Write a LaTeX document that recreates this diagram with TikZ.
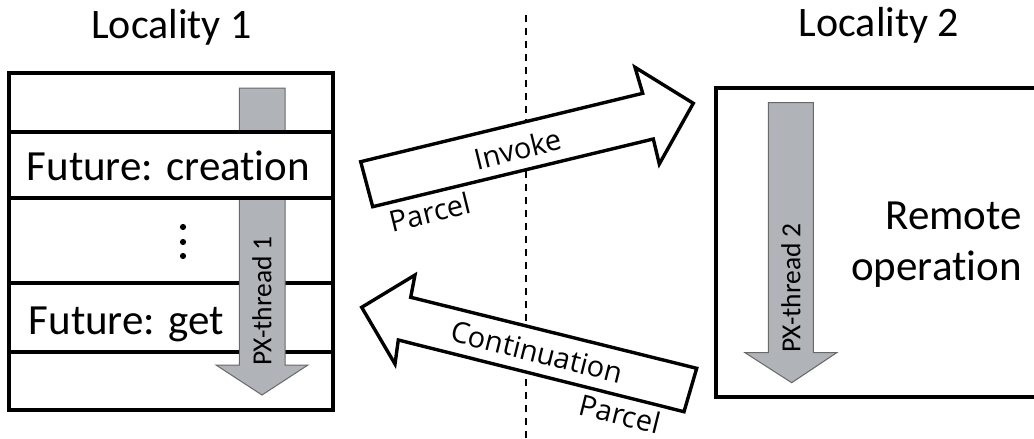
\documentclass[tikz,border=0pt]{standalone}
\usepackage{fontspec}
\setmainfont[Ligatures=NoCommon]{Carlito}
\newfontfamily\parcelfont{Open Sans}
\definecolor{threadfill}{RGB}{176,179,184}
\definecolor{threadline}{RGB}{105,105,105}
\tikzset{
  frame/.style={draw=black, line width=3.2pt},
  rowbox/.style={draw=black, line width=3.2pt, fill=white},
  thread/.style={draw=threadline, line width=1pt, fill=threadfill, line join=miter},
  parcel/.style={draw=black, line width=3.4pt, fill=white, line join=miter},
  bigtext/.style={font=\fontsize{43}{50}\selectfont, inner sep=0pt},
  titletext/.style={font=\fontsize{42}{50}\selectfont, inner sep=0pt},
  threadtext/.style={font=\fontsize{27.5}{32}\selectfont, inner sep=0pt, rotate=90},
  arrowtext/.style={font=\parcelfont\fontsize{29}{34}\selectfont, inner sep=0pt},
}
\begin{document}
\begin{tikzpicture}[x=1pt, y=-1pt]
  \useasboundingbox (0,0) rectangle (1034,439);
  \clip (0,0) rectangle (1034,439);

  % locality titles
  \node[titletext, anchor=base] (loc1) at (171.5,38.3) {Locality 1};
  \node[titletext, anchor=base] (loc2) at (879,36.7) {Locality 2};

  % boundary between the two localities
  \draw[line width=2pt, dash pattern=on 7pt off 6pt] (525.7,15) -- (525.7,439);

  % locality 1: stack of frames
  \draw[frame] (9,73) rectangle (333,410);
  \draw[frame] (9,283) -- (333,283);
  \draw[frame] (9,352) -- (333,352);

  % PX-thread 1
  \draw[thread] (239.3,88) -- (285,88) -- (285,365) -- (308,365) -- (262,395)
                -- (216,365) -- (239.3,365) -- cycle;
  \node[threadtext] (t1) at (262,301) {PX-thread 1};

  % frame covering the thread
  \draw[rowbox] (9,132) rectangle (333,198);
  \node[bigtext, anchor=base west] (fc) at (26.5,180.5) {Future: creation};
  \node[bigtext, anchor=base west] (fg) at (28.5,334) {Future: get};

  % vertical ellipsis
  \foreach \yy in {227,242,256} \fill (183,\yy) circle (3.1pt);

  % locality 2
  \draw[frame] (1045,88) -- (716,88) -- (716,397) -- (1045,397);
  \draw[thread] (768.3,102.7) -- (813.3,102.7) -- (813.3,352.7) -- (836.7,352.7)
                -- (791.7,382.7) -- (745,352.7) -- (768.3,352.7) -- cycle;
  \node[threadtext] (t2) at (791,288) {PX-thread 2};
  \node[bigtext, anchor=base east] (rem) at (1022,229.3) {Remote};
  \node[bigtext, anchor=base east] (op) at (1022,280.7) {operation};

  % invoke parcel
  \draw[parcel] (360.7,161.7) -- (642.7,93.3) -- (635,67.3) -- (693.3,103.3)
                -- (659.3,164) -- (653.3,139) -- (372.7,206.7) -- cycle;
  \node[arrowtext, rotate=13.8] (inv) at (518,149) {Invoke};
  \node[arrowtext, rotate=13.8] (p1) at (430,212) {Parcel};

  % continuation parcel
  \draw[parcel] (361.7,307.3) -- (415,275) -- (410.7,297.3) -- (696.7,368.3)
                -- (684,411.7) -- (398.3,340) -- (395,364) -- cycle;
  \node[arrowtext, rotate=-14] (cont) at (537,352) {Continuation};
  \node[arrowtext, rotate=-14] (p2) at (620,414) {Parcel};
\end{tikzpicture}
\end{document}
